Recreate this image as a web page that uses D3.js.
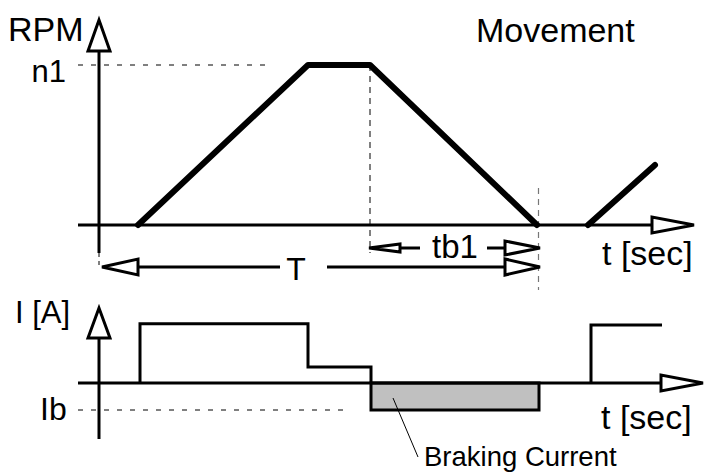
<!DOCTYPE html>
<html>
<head>
<meta charset="utf-8">
<script src="https://cdn.jsdelivr.net/npm/d3@7"></script>
<style>
  body { margin: 0; background: #fff; }
  text { font-family: "Liberation Sans", Arial, sans-serif; fill: #000; }
</style>
</head>
<body>
<div id="chart"></div>
<script>
// speed profile (time units, rpm as fraction of n1)
const speedTime = [1.95, 10.45, 13.55, 21.9]
const speedValue = [0, 1, 1, 0]
const nextSpeedTime = [24.45, 27.8]
const nextSpeedValue = [0, 0.375]

// current profile (units of Ib)
const currentTime = [2.05, 2.05, 10.45, 10.45, 13.6, 13.6]
const currentValue = [0, 2.19, 2.19, 0.59, 0.59, 0]
const brakeTime = [13.6, 22.0]
const brakeValue = -1
const nextCurrentTime = [24.6, 24.6, 28.15]
const nextCurrentValue = [0, 2.15, 2.15]

// time marks
const tb1Start = 13.55
const tEnd = 21.95

const width = 704, height = 472

const svg = d3.select('#chart').append('svg')
  .attr('width', width)
  .attr('height', height)

const x = d3.scaleLinear().domain([0, 30]).range([99, 699])
const ySpeed = d3.scaleLinear().domain([0, 1]).range([225, 65])
const yCur = d3.scaleLinear().domain([-1, 0]).range([410, 383])

// open arrow head, tip at (tx,ty), pointing along dir
function arrowHead(tx, ty, len, hw, dir) {
  let pts
  if (dir == 'up') pts = [[tx, ty], [tx - hw, ty + len], [tx + hw, ty + len]]
  if (dir == 'right') pts = [[tx, ty], [tx - len, ty - hw], [tx - len, ty + hw]]
  if (dir == 'left') pts = [[tx, ty], [tx + len, ty - hw], [tx + len, ty + hw]]
  svg.append('polygon')
    .attr('points', pts.map(p => p.join(',')).join(' '))
    .attr('fill', '#fff')
    .attr('stroke', '#000')
    .attr('stroke-width', 3)
    .attr('stroke-linejoin', 'miter')
}

function line(x1, y1, x2, y2, w, dash, col) {
  svg.append('line')
    .attr('x1', x1).attr('y1', y1).attr('x2', x2).attr('y2', y2)
    .attr('stroke', col || '#000')
    .attr('stroke-width', w)
    .attr('stroke-dasharray', dash || null)
}

function label(txt, tx, ty, size, anchor) {
  svg.append('text')
    .attr('x', tx).attr('y', ty)
    .attr('text-anchor', anchor || 'start')
    .style('font-size', size + 'px')
    .text(txt)
}

// ---------- top: speed ----------
// dashed guides
line(78, ySpeed(1), 268, ySpeed(1), 1, '5,8')
line(x(tb1Start), ySpeed(1), x(tb1Start), 253, 1, '6,5')
line(x(tEnd) + 0.5, 188, x(tEnd) + 0.5, 290, 1.2, '6,5', '#777')
line(x(0), 253, x(0), 268, 1, '4,4')

// axes
line(x(0), 253, x(0), 48, 3)
arrowHead(x(0), 20, 31, 11, 'up')
line(78, ySpeed(0), 660, ySpeed(0), 3)
arrowHead(694, ySpeed(0), 42, 8, 'right')

const speedLine = d3.line()
  .x(d => x(d[0]))
  .y(d => ySpeed(d[1]))

svg.append('path')
  .attr('d', speedLine(speedTime.map((t, i) => [t, speedValue[i]])))
  .attr('fill', 'none').attr('stroke', '#000')
  .attr('stroke-width', 6).attr('stroke-linecap', 'round').attr('stroke-linejoin', 'round')

svg.append('path')
  .attr('d', speedLine(nextSpeedTime.map((t, i) => [t, nextSpeedValue[i]])))
  .attr('fill', 'none').attr('stroke', '#000')
  .attr('stroke-width', 6).attr('stroke-linecap', 'round')

// tb1 arrow
const yTb = 248
arrowHead(x(tb1Start) - 1, yTb, 31, 4, 'left')
line(x(tb1Start) + 30, yTb, 420, yTb, 3)
line(487, yTb, x(tEnd) - 30, yTb, 3)
arrowHead(x(tEnd) + 2, yTb, 35, 7, 'right')
label('tb1', 455, 258, 33, 'middle')

// T arrow
const yT = 267
arrowHead(x(0) + 3, yT, 36, 8, 'left')
line(x(0) + 38, yT, 280, yT, 3)
line(327, yT, x(tEnd) - 33, yT, 3)
arrowHead(x(tEnd) + 2, yT, 35, 8, 'right')
label('T', 296, 280, 32, 'middle')

label('RPM', 8, 41, 34)
label('n1', 66, 82, 31, 'end')
label('Movement', 476, 42, 34)
label('t [sec]', 602, 265, 34)

// ---------- bottom: current ----------
line(78, yCur(-1), 350, yCur(-1), 1, '5,8')

svg.append('rect')
  .attr('x', x(brakeTime[0]))
  .attr('y', yCur(0))
  .attr('width', x(brakeTime[1]) - x(brakeTime[0]))
  .attr('height', yCur(brakeValue) - yCur(0))
  .attr('fill', '#c0c0c0')
  .attr('stroke', '#000')
  .attr('stroke-width', 3)

line(x(0), 439, x(0), 336, 3)
arrowHead(x(0), 308, 30, 11, 'up')
line(78, yCur(0), 668, yCur(0), 3)
arrowHead(703, yCur(0), 42, 8, 'right')

const curLine = d3.line()
  .x(d => x(d[0]))
  .y(d => yCur(d[1]))

svg.append('path')
  .attr('d', curLine(currentTime.map((t, i) => [t, currentValue[i]])))
  .attr('fill', 'none').attr('stroke', '#000').attr('stroke-width', 3)

svg.append('path')
  .attr('d', curLine(nextCurrentTime.map((t, i) => [t, nextCurrentValue[i]])))
  .attr('fill', 'none').attr('stroke', '#000').attr('stroke-width', 3)

// leader for braking current
line(393, 398, 418, 457, 1)

label('I [A]', 15, 323, 31)
label('Ib', 40, 420, 32)
label('t [sec]', 601, 429, 34)
label('Braking Current', 424, 466, 27.5)
</script>
</body>
</html>
